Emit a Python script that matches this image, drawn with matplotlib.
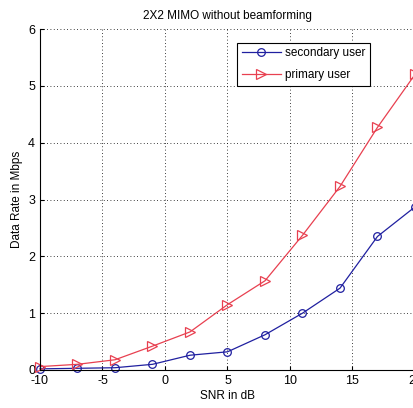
import numpy as np
import matplotlib.pyplot as plt

plt.rcParams['font.family'] = ['Liberation Sans', 'DejaVu Sans']
plt.rcParams['axes.unicode_minus'] = False

snr = [-10, -7, -4, -1, 2, 5, 8, 11, 14, 17, 20]
secondary = [0.02, 0.03, 0.04, 0.10, 0.26, 0.32, 0.62, 1.00, 1.44, 2.35, 2.87]
primary = [0.06, 0.10, 0.18, 0.42, 0.67, 1.15, 1.57, 2.37, 3.23, 4.27, 5.20]

fig = plt.figure(figsize=(4.14, 4.08), dpi=100)
ax = fig.add_axes([40 / 414, 38 / 408, 375 / 414, 341 / 408])

ax.plot(snr, secondary, color='#2020a0', lw=0.9, marker='o', ms=5.5,
        mfc='none', mec='#2020a0', mew=0.9, label='secondary user', clip_on=False)
ax.plot(snr, primary, color='#e84050', lw=0.9, marker='>', ms=6.5,
        mfc='none', mec='#e84050', mew=0.9, label='primary user', clip_on=False)

ax.set_xlim(-10, 20)
ax.set_ylim(0, 6)
ax.set_xticks([-10, -5, 0, 5, 10, 15, 20])
ax.set_yticks([0, 1, 2, 3, 4, 5, 6])
ax.grid(True, linestyle=(0, (1, 3)), color='black', lw=0.6)
ax.tick_params(direction='in', labelsize=9, length=3)
for s in ['top', 'right']:
    ax.spines[s].set_visible(False)

ax.set_title('2X2 MIMO without beamforming', fontsize=8.5, pad=7)
ax.set_xlabel('SNR in dB', fontsize=8.5, labelpad=2)
ax.set_ylabel('Data Rate in Mbps', fontsize=8.5, labelpad=4)

leg = ax.legend(loc='upper left', bbox_to_anchor=(0.525, 0.96), fontsize=8.5,
                fancybox=False, edgecolor='black', framealpha=1, borderaxespad=0,
                handlelength=3.3, borderpad=0.4, labelspacing=0.8, handletextpad=0.4)
leg.get_frame().set_linewidth(0.8)

fig.savefig('out.png', dpi=100)
